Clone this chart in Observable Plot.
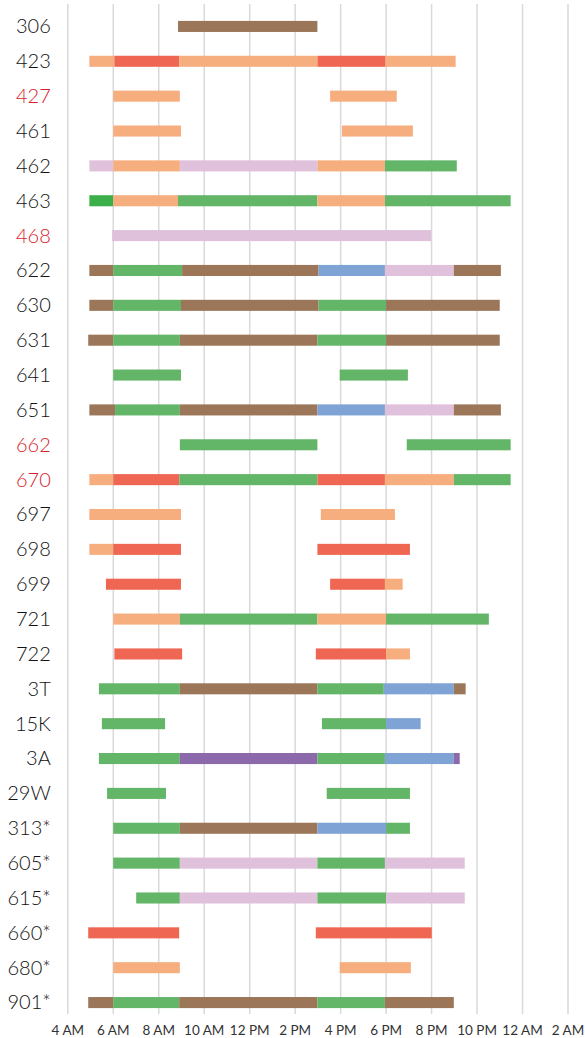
<!DOCTYPE html>
<html><head><meta charset="utf-8">
<script src="https://cdn.jsdelivr.net/npm/d3@7"></script>
<script src="https://cdn.jsdelivr.net/npm/@observablehq/plot@0.6"></script>
<style>body{margin:0;background:#fff;} svg{overflow:visible}</style>
</head><body><div id="chart"></div>
<script>
const routes = ["306","423","427","461","462","463","468","622","630","631","641","651","662","670","697","698","699","721","722","3T","15K","3A","29W","313*","605*","615*","660*","680*","901*"];
const redRoutes = ["427","468","662","670"];
const xTicks = [4,6,8,10,12,14,16,18,20,22,24,26];
const xTickLabels = ["4 AM","6 AM","8 AM","10 AM","12 PM","2 PM","4 PM","6 PM","8 PM","10 PM","12 AM","2 AM"];
const categories = ["peach","red","brown","green","darkgreen","lavender","blue","purple"];
const categoryColors = ["#f7ae7e","#ef6753","#9b7659","#63b567","#3daf4a","#e0c1dc","#7fa3d4","#8b69ab"];

// [start hour, end hour, category]
const s306 = [[8.87,15.0,"brown"]];
const s423 = [[4.97,6.07,"peach"],[6.07,8.92,"red"],[8.92,15.0,"peach"],[15.0,18.0,"red"],[18.0,21.08,"peach"]];
const s427 = [[6.02,8.95,"peach"],[15.56,18.49,"peach"]];
const s461 = [[6.02,9.0,"peach"],[16.08,19.2,"peach"]];
const s462 = [[4.97,6.02,"lavender"],[6.02,8.95,"peach"],[8.95,15.0,"lavender"],[15.0,17.97,"peach"],[17.97,21.13,"green"]];
const s463 = [[4.97,6.02,"darkgreen"],[6.02,8.87,"peach"],[8.87,15.0,"green"],[15.0,17.97,"peach"],[17.97,23.5,"green"]];
const s468 = [[5.97,20.0,"lavender"]];
const s622 = [[4.97,6.02,"brown"],[6.02,9.05,"green"],[9.05,15.05,"brown"],[15.05,17.97,"blue"],[17.97,21.0,"lavender"],[21.0,23.07,"brown"]];
const s630 = [[4.97,6.02,"brown"],[6.02,9.0,"green"],[9.0,15.05,"brown"],[15.05,18.02,"green"],[18.02,23.02,"brown"]];
const s631 = [[4.92,6.02,"brown"],[6.02,8.95,"green"],[8.95,15.0,"brown"],[15.0,18.02,"green"],[18.02,23.02,"brown"]];
const s641 = [[6.02,9.0,"green"],[15.98,18.98,"green"]];
const s651 = [[4.97,6.1,"brown"],[6.1,8.95,"green"],[8.95,15.0,"brown"],[15.0,17.97,"blue"],[17.97,21.0,"lavender"],[21.0,23.07,"brown"]];
const s662 = [[8.95,15.0,"green"],[18.93,23.5,"green"]];
const s670 = [[4.97,6.02,"peach"],[6.02,8.93,"red"],[8.93,15.0,"green"],[15.0,17.97,"red"],[17.97,21.0,"peach"],[21.0,23.5,"green"]];
const s697 = [[4.97,9.0,"peach"],[15.15,18.41,"peach"]];
const s698 = [[4.97,6.02,"peach"],[6.02,9.0,"red"],[15.0,19.07,"red"]];
const s699 = [[5.7,9.0,"red"],[15.56,17.97,"red"],[17.97,18.75,"peach"]];
const s721 = [[6.02,8.95,"peach"],[8.95,15.0,"green"],[15.0,18.02,"peach"],[18.02,22.54,"green"]];
const s722 = [[6.07,9.05,"red"],[14.93,18.02,"red"],[18.02,19.07,"peach"]];
const s3T = [[5.39,8.95,"green"],[8.95,15.0,"brown"],[15.0,17.92,"green"],[17.92,21.0,"blue"],[21.0,21.52,"brown"]];
const s15K = [[5.52,8.3,"green"],[15.2,18.02,"green"],[18.02,19.54,"blue"]];
const s3A = [[5.39,8.95,"green"],[8.95,15.0,"purple"],[15.0,17.97,"green"],[17.97,21.0,"blue"],[21.0,21.26,"purple"]];
const s29W = [[5.75,8.34,"green"],[15.41,19.07,"green"]];
const s313 = [[6.02,8.95,"green"],[8.95,15.0,"brown"],[15.0,18.02,"blue"],[18.02,19.07,"green"]];
const s605 = [[6.02,8.95,"green"],[8.95,15.0,"lavender"],[15.0,17.97,"green"],[17.97,21.48,"lavender"]];
const s615 = [[7.03,8.95,"green"],[8.95,15.0,"lavender"],[15.0,18.02,"green"],[18.02,21.48,"lavender"]];
const s660 = [[4.92,8.92,"red"],[14.93,20.03,"red"]];
const s680 = [[6.02,8.95,"peach"],[15.98,19.11,"peach"]];
const s901 = [[4.92,6.02,"brown"],[6.02,8.92,"green"],[8.92,15.0,"brown"],[15.0,17.97,"green"],[17.97,21.0,"brown"]];

const rows = [s306,s423,s427,s461,s462,s463,s468,s622,s630,s631,s641,s651,s662,s670,s697,s698,s699,s721,s722,s3T,s15K,s3A,s29W,s313,s605,s615,s660,s680,s901];

const data = routes.flatMap((route, i) => rows[i].map(([start, end, cat]) => ({route, start, end, cat})));
const tickFmt = d => xTickLabels[xTicks.indexOf(d)];

const chart = Plot.plot({
  width: 585,
  height: 1038,
  marginLeft: 67.3,
  marginRight: 17.5,
  marginTop: 9,
  marginBottom: 18,
  style: {fontFamily: "Lato, sans-serif", background: "white", overflow: "visible"},
  x: {domain: [4, 26], axis: null},
  y: {domain: routes, padding: 0, round: false, axis: null},
  color: {domain: categories, range: categoryColors},
  marks: [
    Plot.ruleX(xTicks, {stroke: "#d9d9d9", strokeWidth: 1.5, insetTop: -5, insetBottom: 6}),
    Plot.barX(data, {x1: "start", x2: "end", y: "route", fill: "cat", insetTop: 11.9, insetBottom: 11.9}),
    Plot.axisX({ticks: xTicks, tickFormat: tickFmt, tickSize: 0, tickPadding: 5, fontSize: 13.5, fill: "#333", label: null}),
    Plot.axisY(routes.filter(r => !redRoutes.includes(r)), {tickSize: 0, tickPadding: 17, fontSize: 20, fontWeight: 300, fill: "#111", label: null}),
    Plot.axisY(redRoutes, {tickSize: 0, tickPadding: 17, fontSize: 20, fontWeight: 300, fill: "#d8232c", label: null})
  ]
});
document.getElementById("chart").appendChild(chart);
</script>
</body></html>
